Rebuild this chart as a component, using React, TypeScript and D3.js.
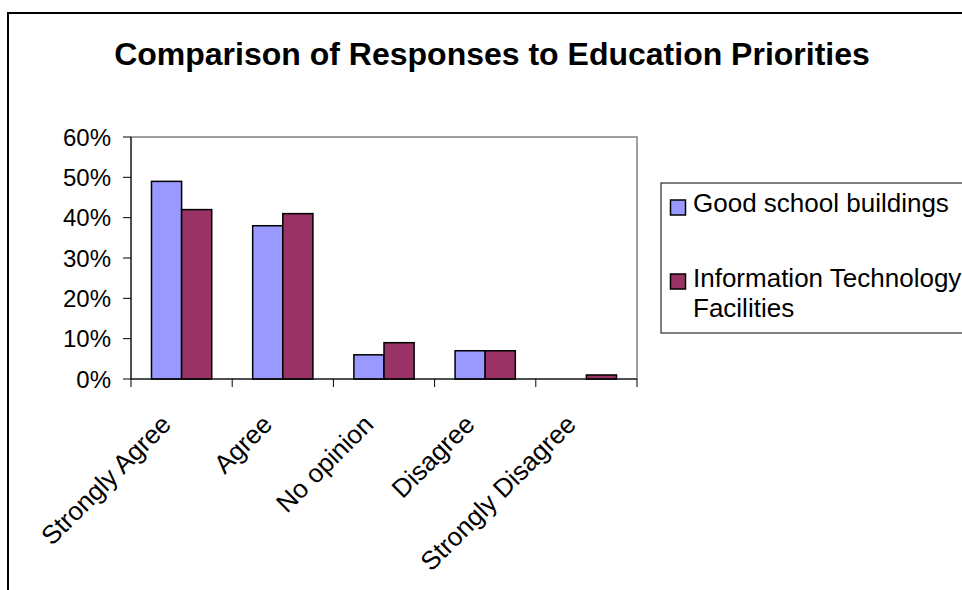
import React from "react";
import * as d3 from "d3";

const categories = ["Strongly Agree", "Agree", "No opinion", "Disagree", "Strongly Disagree"];
const seriesNames = ["Good school buildings", "Information Technology Facilities"];
const goodBuildings = [0.49, 0.38, 0.06, 0.07, 0.0];
const itFacilities = [0.42, 0.41, 0.09, 0.07, 0.01];
const yTicks = [0, 0.1, 0.2, 0.3, 0.4, 0.5, 0.6];
const colors = ["#9999FF", "#993366"];
const title = "Comparison of Responses to Education Priorities";

const W = 962, H = 590;
const plot = { left: 131, right: 637, top: 137, bottom: 379 };
const FONT = "'Liberation Sans', Arial, sans-serif";

export default function App() {
  const x = d3.scaleBand<string>().domain(categories).range([plot.left, plot.right]).paddingInner(0).paddingOuter(0);
  const inner = d3.scaleBand<number>().domain([0, 1]).range([0, x.bandwidth()]).paddingOuter(0.68).paddingInner(0);
  const y = d3.scaleLinear().domain([0, 0.6]).range([plot.bottom, plot.top]);
  const series = [goodBuildings, itFacilities];
  const ticksX = [...categories.map((c) => x(c)!), plot.right];

  return (
    <svg width={W} height={H} style={{ position: "absolute", left: 0, top: 0, background: "#fff" }} fontFamily={FONT}>
      <rect x={8} y={13} width={W + 20} height={H + 20} fill="#fff" stroke="#000" strokeWidth={2} />
      <text x={492} y={65} textAnchor="middle" fontSize={32} fontWeight="bold">{title}</text>
      {/* plot area */}
      <rect x={plot.left} y={plot.top} width={plot.right - plot.left} height={plot.bottom - plot.top} fill="#fff" stroke="#808080" strokeWidth={1.5} />
      {/* bars */}
      {series.map((vals, si) =>
        vals.map((v, ci) => {
          if (v <= 0) return null;
          const bx = x(categories[ci])! + inner(si)!;
          const by = y(v);
          return (
            <rect key={`${si}-${ci}`} x={bx} y={by} width={inner.bandwidth()} height={plot.bottom - by} fill={colors[si]} stroke="#000" strokeWidth={1.5} />
          );
        })
      )}
      {/* y axis */}
      <line x1={plot.left} x2={plot.left} y1={plot.top} y2={plot.bottom} stroke="#000" strokeWidth={1} />
      {yTicks.map((t) => (
        <g key={t}>
          <line x1={plot.left - 8} x2={plot.left} y1={y(t)} y2={y(t)} stroke="#000" />
          <text x={111} y={y(t)} dy="0.36em" textAnchor="end" fontSize={24}>{d3.format(".0%")(t)}</text>
        </g>
      ))}
      {/* x axis */}
      <line x1={plot.left} x2={plot.right} y1={plot.bottom} y2={plot.bottom} stroke="#000" />
      {ticksX.map((tx, i) => (
        <line key={i} x1={tx} x2={tx} y1={plot.bottom} y2={plot.bottom + 8} stroke="#000" />
      ))}
      {categories.map((c) => {
        const cx = x(c)! + x.bandwidth() / 2 - 9;
        const cy = 426;
        return (
          <text key={c} x={cx} y={cy} textAnchor="end" fontSize={26} transform={`rotate(-45 ${cx} ${cy})`}>{c}</text>
        );
      })}
      {/* legend */}
      <rect x={661} y={183} width={W} height={150} fill="#fff" stroke="#000" strokeWidth={1} />
      <rect x={670.5} y={200} width={15} height={15} fill={colors[0]} stroke="#000" strokeWidth={1.5} />
      <text x={693} y={212} fontSize={26}>{seriesNames[0]}</text>
      <rect x={670.5} y={274} width={15} height={15} fill={colors[1]} stroke="#000" strokeWidth={1.5} />
      <text x={693} y={287} fontSize={26}>
        <tspan x={693}>Information Technology</tspan>
        <tspan x={693} dy={30}>Facilities</tspan>
      </text>
    </svg>
  );
}
